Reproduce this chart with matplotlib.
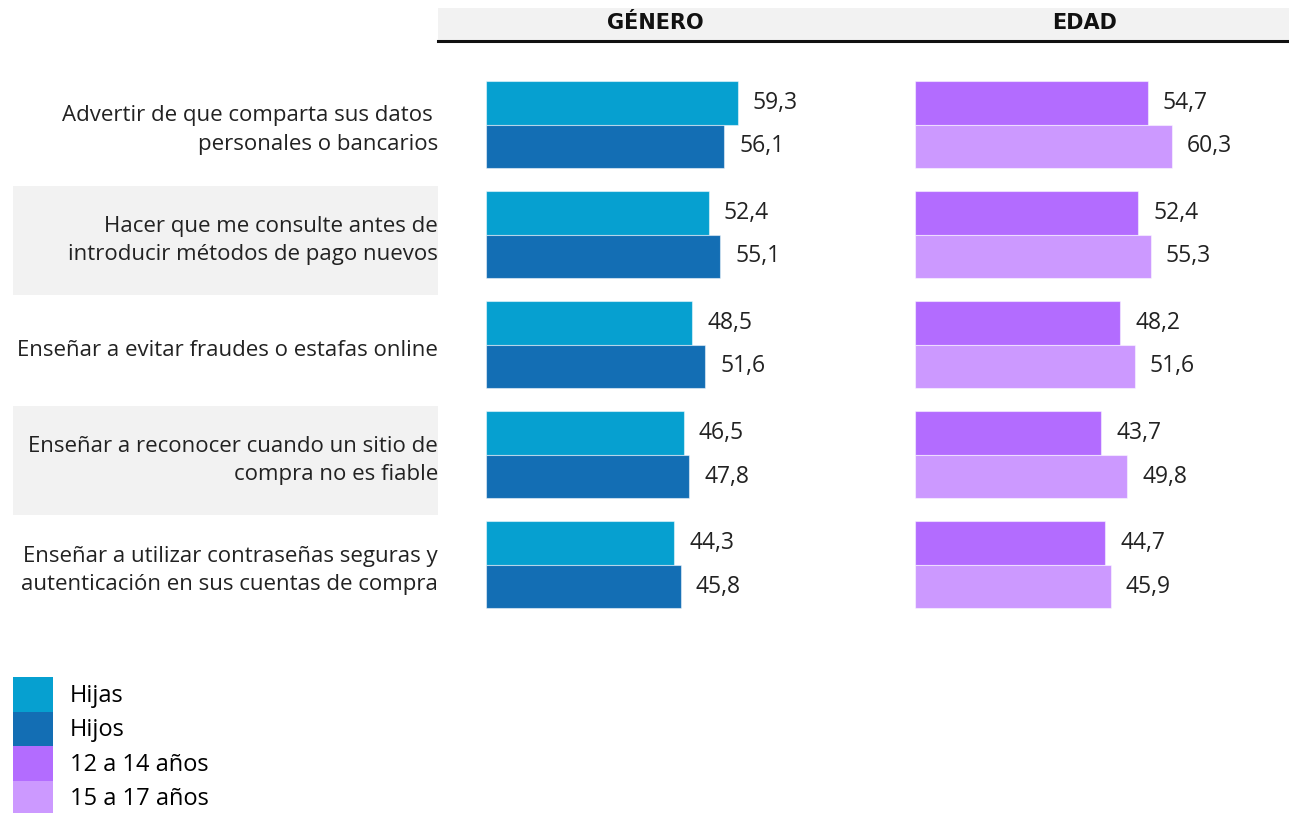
# Acciones de los padres para la compra online, por género y edad de los hijos

import matplotlib.pyplot as plt
from matplotlib.patches import Patch

# datos
categorias = [
    'Advertir de que comparta sus datos \npersonales o bancarios',
    'Hacer que me consulte antes de\nintroducir métodos de pago nuevos',
    'Enseñar a evitar fraudes o estafas online',
    'Enseñar a reconocer cuando un sitio de\ncompra no es fiable',
    'Enseñar a utilizar contraseñas seguras y\nautenticación en sus cuentas de compra',
]
hijas = [59.3, 52.4, 48.5, 46.5, 44.3]
hijos = [56.1, 55.1, 51.6, 47.8, 45.8]
edad_12_14 = [54.7, 52.4, 48.2, 43.7, 44.7]
edad_15_17 = [60.3, 55.3, 51.6, 49.8, 45.9]

c_hijas, c_hijos = '#06A0D0', '#136EB4'
c_12, c_15 = '#B36CFF', '#CC99FF'

plt.rcParams['font.family'] = ['Open Sans', 'DejaVu Sans']

W, H = 1289, 813
fig = plt.figure(figsize=(W / 100, H / 100), dpi=100)


def px_axes(x0, y0, x1, y1):
    # coordenadas en pixeles, origen arriba a la izquierda
    return fig.add_axes([x0 / W, 1 - y1 / H, (x1 - x0) / W, (y1 - y0) / H])


y = list(range(len(categorias)))
bh = 0.395


def fmt(v):
    return f'{v:.1f}'.replace('.', ',')


def panel(ax, a, b, ca, cb, xmax):
    ya = [i - bh / 2 for i in y]
    yb = [i + bh / 2 for i in y]
    ax.barh(ya, a, height=bh, color=ca, edgecolor='#FFFFFF80', linewidth=0.8)
    ax.barh(yb, b, height=bh, color=cb, edgecolor='#FFFFFF80', linewidth=0.8)
    for yy, v in zip(ya, a):
        ax.text(v + 3.5, yy, fmt(v), va='center', ha='left', fontsize=16.5, color='#222222')
    for yy, v in zip(yb, b):
        ax.text(v + 3.5, yy, fmt(v), va='center', ha='left', fontsize=16.5, color='#222222')
    ax.set_xlim(0, xmax)
    ax.set_ylim(len(y) - 0.5, -0.5)
    ax.axis('off')


ax1 = px_axes(486, 69.5, 486 + 95 * 4.25, 620)
panel(ax1, hijas, hijos, c_hijas, c_hijos, 95)
ax2 = px_axes(915, 69.5, 915 + 85 * 4.26, 620)
panel(ax2, edad_12_14, edad_15_17, c_12, c_15, 85)

# etiquetas de las categorías con bandas grises alternas
axl = px_axes(13, 75, 438, 625.5)
axl.set_xlim(0, 1)
axl.set_ylim(len(y) - 0.5, -0.5)
for i in y:
    if i % 2 == 1:
        axl.axhspan(i - 0.495, i + 0.495, color='#F2F2F2', lw=0)
    axl.text(1, i, categorias[i], ha='right', va='center', fontsize=16,
             color='#222222', linespacing=1.45, multialignment='right')
axl.axis('off')

# cabecera
axh = px_axes(438, 8, W, 41)
axh.set_facecolor('#F2F2F2')
axh.set_xticks([])
axh.set_yticks([])
for s in ['top', 'left', 'right']:
    axh.spines[s].set_visible(False)
axh.spines['bottom'].set_linewidth(2.2)
axh.spines['bottom'].set_color('#111111')
hfont = ['DejaVu Sans Condensed', 'Liberation Sans Narrow', 'DejaVu Sans']
fig.text(655 / W, 1 - 23 / H, 'GÉNERO', ha='center', va='center', fontsize=15,
         fontweight='bold', family=hfont, color='#111111')
fig.text(1085 / W, 1 - 23 / H, 'EDAD', ha='center', va='center', fontsize=15,
         fontweight='bold', family=hfont, color='#111111')

# leyenda
handles = [Patch(facecolor=c, edgecolor='none') for c in [c_hijas, c_hijos, c_12, c_15]]
fs = 17
box_h = 34.5 * 72 / 100
fig.legend(handles, ['Hijas', 'Hijos', '12 a 14 años', '15 a 17 años'],
           loc='lower left', bbox_to_anchor=(13 / W, -2 / H), frameon=False,
           fontsize=fs, handlelength=40 * 0.72 / fs,
           handleheight=(box_h - 0.245 * fs) / (0.65 * fs),
           handletextpad=17 * 0.72 / fs, labelspacing=0, borderpad=0, borderaxespad=0)

fig.savefig('out.png', dpi=100)
